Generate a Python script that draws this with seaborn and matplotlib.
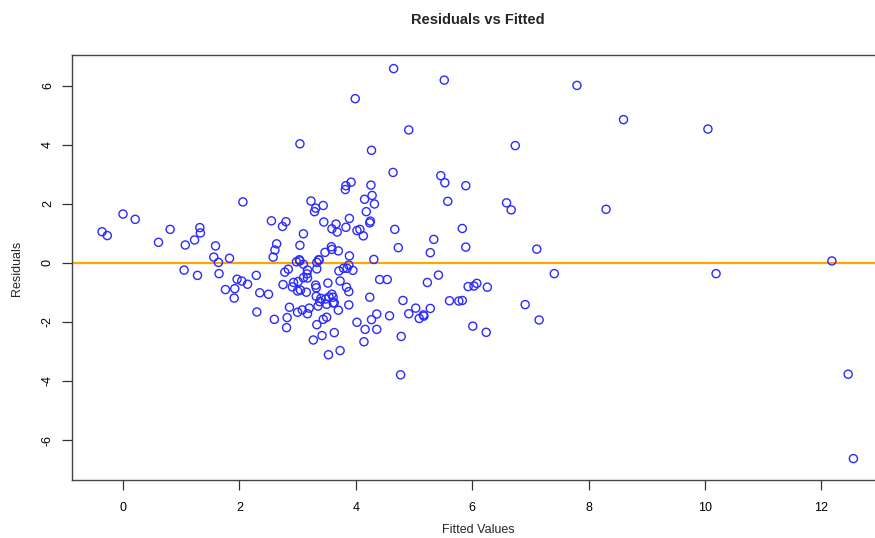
import matplotlib
matplotlib.use("Agg")
import matplotlib.pyplot as plt
import seaborn as sns
import pandas as pd

# Fitted values and residuals
fitted = [
    2.06, 0.00, 0.21, -0.36, -0.27, 0.81, 1.32, 1.33, 0.61, 1.07, 1.23, 1.59, 1.56, 1.64, 1.83,
    1.05, 1.28, 1.65, 1.96, 2.04, 2.14, 1.76, 1.92, 1.91,
    3.92, 3.83, 3.82, 3.23, 3.31, 3.29, 3.44, 2.55, 2.80, 2.74, 3.45, 3.66, 3.59, 3.68, 3.83,
    3.89, 4.02, 3.10, 2.64, 2.61, 2.58, 3.04, 3.58, 3.59, 3.70, 3.47, 3.89, 3.36, 3.03,
    2.98, 3.04, 3.10, 3.37, 3.33, 3.33, 3.88, 3.85, 3.95, 3.79, 3.71, 3.17, 3.16, 3.10, 3.17,
    3.01, 2.93, 2.91, 2.78, 2.84, 2.29, 2.75, 3.31, 3.32, 3.52, 3.73, 3.84, 3.88, 3.00, 3.05,
    3.15, 2.35, 2.50, 3.32, 3.59, 3.54, 3.48, 3.61, 3.40, 3.38, 3.35, 3.50, 3.61, 3.63, 2.86,
    3.20, 3.08, 3.00, 3.17, 3.88, 3.70, 2.30, 2.60, 2.82, 2.81, 3.50, 3.44, 3.33, 3.63, 3.42,
    3.27, 3.73, 3.53, 4.02,
    4.64, 5.46, 5.53, 5.89, 5.58, 4.26, 4.28, 4.15, 4.32, 4.18, 4.25, 4.24, 4.67, 4.07, 4.13,
    5.83, 5.34, 4.73, 5.28, 5.89, 4.31,
    4.41, 4.54, 5.23, 5.42, 5.93, 6.03, 4.24, 4.81, 5.61, 5.77, 5.83, 5.03, 5.28, 4.91, 5.16,
    5.17, 5.09, 4.36, 4.58, 4.27, 4.16, 4.36, 4.14, 4.78, 6.01, 4.77,
    6.59, 6.67, 8.30, 7.11, 7.41, 6.08, 6.26, 6.91, 7.15, 6.24,
    4.65, 5.52, 3.99, 4.91, 4.27, 3.04,
    7.80, 8.60, 10.05, 6.74,
    10.19, 12.18, 12.46, 12.55,
]
residuals = [
    2.07, 1.66, 1.48, 1.06, 0.93, 1.14, 1.20, 1.02, 0.70, 0.61, 0.78, 0.58, 0.20, 0.02, 0.16,
    -0.24, -0.42, -0.36, -0.55, -0.61, -0.72, -0.90, -0.87, -1.19,
    2.74, 2.62, 2.49, 2.10, 1.86, 1.74, 1.95, 1.43, 1.40, 1.24, 1.39, 1.32, 1.16, 1.05, 1.21,
    1.51, 1.10, 0.99, 0.65, 0.44, 0.20, 0.60, 0.55, 0.46, 0.41, 0.36, 0.24, 0.11, 0.11,
    0.04, 0.07, -0.04, 0.10, 0.02, -0.20, -0.07, -0.18, -0.25, -0.18, -0.27, -0.24, -0.37, -0.50, -0.51,
    -0.63, -0.66, -0.81, -0.31, -0.21, -0.42, -0.73, -0.75, -0.84, -0.68, -0.61, -0.82, -0.97, -0.95, -0.92,
    -0.99, -1.01, -1.06, -1.13, -1.06, -1.15, -1.22, -1.16, -1.20, -1.31, -1.46, -1.40, -1.35, -1.35, -1.50,
    -1.53, -1.59, -1.67, -1.72, -1.42, -1.60, -1.66, -1.91, -1.85, -2.19, -1.84, -1.91, -2.09, -2.36, -2.46,
    -2.61, -2.97, -3.11, -2.01,
    3.07, 2.96, 2.72, 2.62, 2.09, 2.64, 2.29, 2.16, 2.00, 1.74, 1.42, 1.36, 1.14, 1.14, 0.92,
    1.17, 0.80, 0.52, 0.35, 0.54, 0.12,
    -0.56, -0.56, -0.66, -0.41, -0.80, -0.78, -1.16, -1.27, -1.28, -1.29, -1.27, -1.53, -1.54, -1.72, -1.76,
    -1.80, -1.88, -1.73, -1.79, -1.92, -2.25, -2.25, -2.67, -2.49, -2.14, -3.79,
    2.04, 1.80, 1.82, 0.47, -0.36, -0.69, -0.82, -1.41, -1.93, -2.35,
    6.59, 6.20, 5.57, 4.51, 3.82, 4.04,
    6.02, 4.86, 4.54, 3.98,
    -0.36, 0.07, -3.77, -6.63,
]
x_ticks = [0, 2, 4, 6, 8, 10, 12]
y_ticks = [-6, -4, -2, 0, 2, 4, 6]

df = pd.DataFrame({"Fitted": fitted, "Residuals": residuals})

sns.set_style("white", {"xtick.bottom": True, "ytick.left": True})
plt.rcParams["font.family"] = ["Liberation Sans", "DejaVu Sans"]

W, H = 875, 538
fig = plt.figure(figsize=(W / 100, H / 100), dpi=100)
left_px, right_px, top_px, bottom_px = 72, 884, 55, 480
ax = fig.add_axes([left_px / W, 1 - bottom_px / H,
                   (right_px - left_px) / W, (bottom_px - top_px) / H])

sns.scatterplot(data=df, x="Fitted", y="Residuals", ax=ax, s=34,
                facecolors="none", edgecolors="#2a2aff", linewidth=1.0,
                legend=False, zorder=3)
ax.axhline(0, color="#FFA500", linewidth=1.6, zorder=2)

xlo = (left_px - 123) / 58.2
xhi = (right_px - 123) / 58.2
yhi = (263 - top_px) / 29.5
ylo = (263 - bottom_px) / 29.5
ax.set_xlim(xlo, xhi)
ax.set_ylim(ylo, yhi)

ax.set_xticks(x_ticks)
ax.set_yticks(y_ticks)
ax.set_xticklabels([str(t) for t in x_ticks], fontsize=9)
ax.set_yticklabels([str(t) for t in y_ticks], fontsize=9, rotation=90, va="center")
ax.tick_params(axis="x", direction="out", length=7, width=0.9, color="#333333",
               labelcolor="black", bottom=True, pad=9)
ax.tick_params(axis="y", direction="out", length=7, width=0.9, color="#333333",
               labelcolor="black", left=True, pad=6)

for s in ax.spines.values():
    s.set_color("#444444")
    s.set_linewidth(1.0)

ax.set_xlabel("")
ax.set_ylabel("")
fig.text((left_px + right_px) / 2 / W, 1 - 530 / H, "Fitted Values",
         ha="center", va="center", fontsize=9)
fig.text(17 / W, 1 - 268 / H, "Residuals", ha="center", va="center",
         rotation=90, fontsize=9)
fig.text((left_px + right_px) / 2 / W, 1 - 20 / H, "Residuals vs Fitted",
         ha="center", va="center", fontsize=10.5, fontweight="bold")

fig.savefig("out.png", dpi=100, facecolor="white")
